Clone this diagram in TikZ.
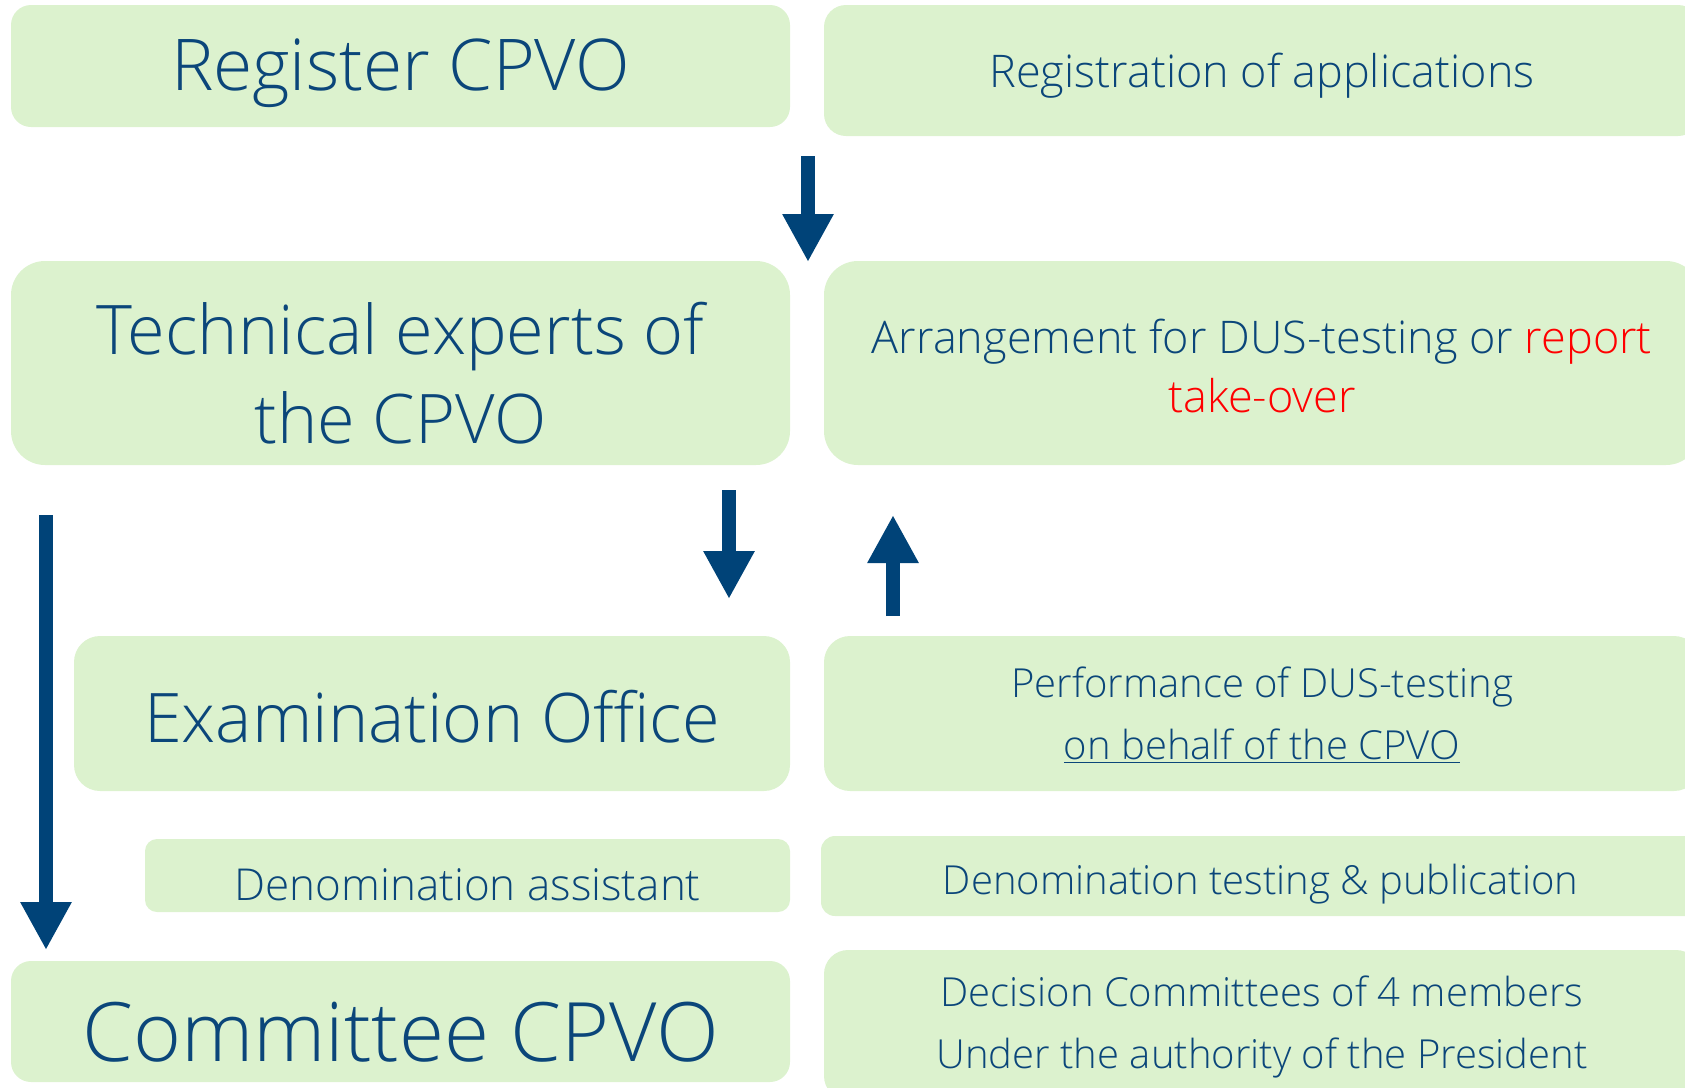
\documentclass[tikz,border=0pt]{standalone}
\usepackage{fontspec}
\setmainfont{Open Sans}[UprightFont=* Light]
\usetikzlibrary{arrows.meta}

\definecolor{boxgreen}{RGB}{220,242,206}
\definecolor{cpvoblue}{RGB}{11,70,122}
\definecolor{arrowblue}{RGB}{0,67,120}

\tikzset{
  box/.style={fill=boxgreen, rounded corners=#1, inner sep=0pt},
  box/.default=10pt,
  txt/.style={text=cpvoblue, align=center, inner sep=0pt},
  titletext/.style={txt, font=\fontsize{35.7}{44.5}\selectfont},
  bigtext/.style={txt, font=\fontsize{34.2}{44.5}\selectfont},
  hugetext/.style={txt, font=\fontsize{41}{48}\selectfont},
  smalltext/.style={txt, font=\fontsize{22.5}{29.5}\selectfont},
  lowertext/.style={txt, font=\fontsize{20}{31}\selectfont},
  fatarrow/.style={draw=arrowblue, line width=7pt, -{Triangle[width=24pt,length=24pt]}}
}

\begin{document}
\begin{tikzpicture}[x=0.5pt,y=-0.5pt]
  \useasboundingbox (0,0) rectangle (1685,1087);
  \clip (0,0) rectangle (1685,1087);

  \node[box=10pt, minimum width=389.5pt, minimum height=61pt,
    label={[titletext, yshift=-3.8pt]center:Register CPVO}] (reg) at (400.5,66) {};
  \node[box=11pt, minimum width=438pt, minimum height=65.5pt,
    label={[smalltext, yshift=-2.7pt]center:Registration of applications}] (regapp) at (1262,70.5) {};

  \node[box=17pt, minimum width=389.5pt, minimum height=102pt,
    label={[bigtext, yshift=-5pt]center:Technical experts of\\the CPVO}] (tech) at (400.5,363) {};
  \node[box=17pt, minimum width=438pt, minimum height=102pt,
    label={[smalltext, yshift=-1.6pt]center:Arrangement for DUS-testing or \textcolor{red}{report}\\\textcolor{red}{take-over}}] (arrange) at (1262,363) {};

  \node[box=13pt, minimum width=358pt, minimum height=77.5pt,
    label={[bigtext, yshift=-1.6pt]center:Examination Office}] (exam) at (432,713.5) {};
  \node[box=13pt, minimum width=438pt, minimum height=77.5pt,
    label={[lowertext, yshift=-1pt]center:Performance of DUS-testing\\\underline{on behalf of the CPVO}}] (perf) at (1262,713.5) {};

  \node[box=6pt, minimum width=322.5pt, minimum height=36.5pt,
    label={[smalltext, font=\fontsize{22}{29.5}\selectfont, yshift=-4.8pt]center:Denomination assistant}] (denom) at (467.5,875.5) {};
  \node[box=7pt, minimum width=439.5pt, minimum height=40pt,
    label={[lowertext, yshift=-3.8pt]center:Denomination testing \& publication}] (denomtest) at (1260.5,876) {};

  \node[box=10pt, minimum width=389.5pt, minimum height=60.5pt,
    label={[hugetext, yshift=-5.4pt]center:Committee CPVO}] (comm) at (400.5,1021.5) {};
  \node[box=12pt, minimum width=438pt, minimum height=75pt,
    label={[lowertext, yshift=-1.2pt]center:Decision Committees of 4 members\\Under the authority of the President}] (decision) at (1262,1025) {};

  \coordinate (regout) at (808,156);
  \coordinate (techin) at (808,262);
  \coordinate (techout) at (729,490);
  \coordinate (examin) at (729,599);
  \coordinate (perfout) at (893,616);
  \coordinate (arrangein) at (893,515);
  \coordinate (sidetop) at (46,515);
  \coordinate (commin) at (46,950);

  \draw[fatarrow] (regout) -- (techin);
  \draw[fatarrow] (techout) -- (examin);
  \draw[fatarrow] (perfout) -- (arrangein);
  \draw[fatarrow] (sidetop) -- (commin);
\end{tikzpicture}
\end{document}
